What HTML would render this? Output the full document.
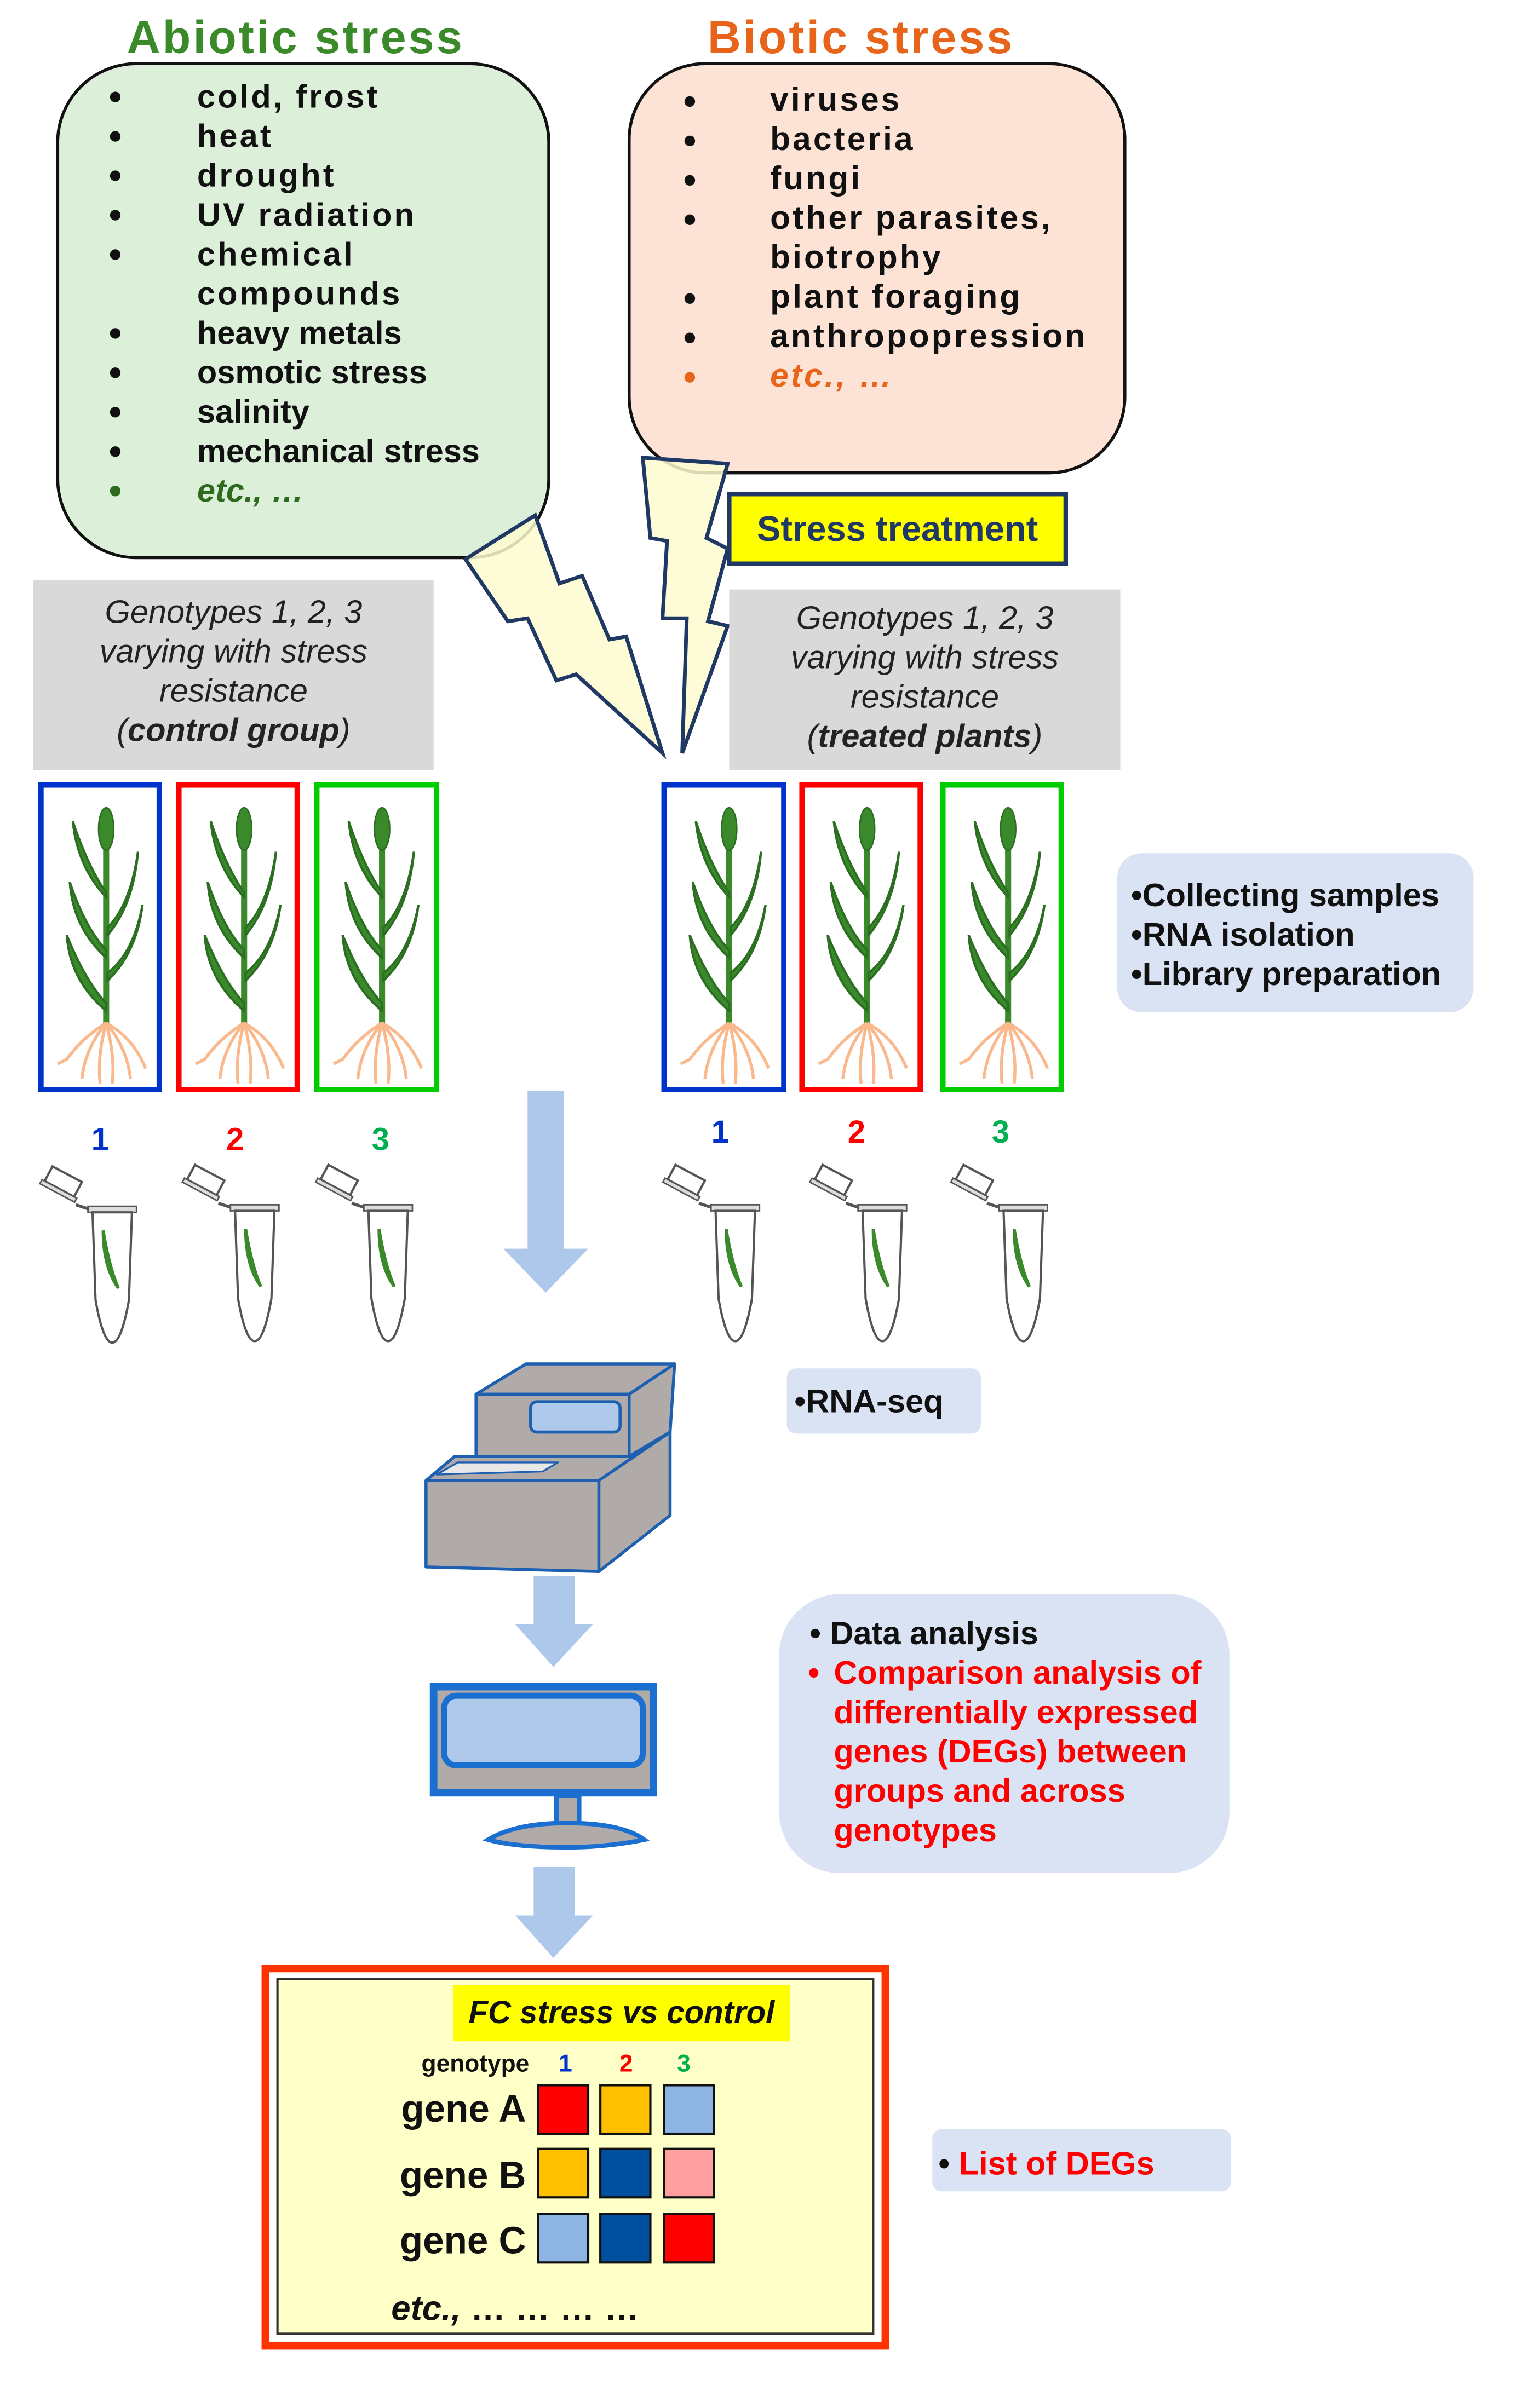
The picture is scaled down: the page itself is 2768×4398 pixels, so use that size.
<!DOCTYPE html>
<html><head><meta charset="utf-8"><style>html,body{margin:0;padding:0;background:#fff}svg{display:block}</style></head>
<body>
<svg width="2768" height="4398" viewBox="0 0 1000 1589" xmlns="http://www.w3.org/2000/svg" font-family="Liberation Sans, Arial, sans-serif">
<defs>
<g id="plant">
  <line x1="44" y1="28" x2="44" y2="158" stroke="#3a8a2c" stroke-width="4"/>
  <ellipse cx="44" cy="30" rx="5" ry="14" fill="#3a8a2c" stroke="#2c6e22"/>
  <path d="M44,75 Q25,55 22,25 Q32,55 44,72Z" fill="#3a8a2c" stroke="#2c6e22" stroke-width="1.5"/>
  <path d="M44,115 Q22,95 20,65 Q30,95 44,110Z" fill="#3a8a2c" stroke="#2c6e22" stroke-width="1.5"/>
  <path d="M44,150 Q20,130 18,100 Q30,130 44,145Z" fill="#3a8a2c" stroke="#2c6e22" stroke-width="1.5"/>
  <path d="M45,100 Q62,80 65,45 Q60,80 45,95Z" fill="#3a8a2c" stroke="#2c6e22" stroke-width="1.5"/>
  <path d="M45,130 Q64,112 68,80 Q62,112 45,125Z" fill="#3a8a2c" stroke="#2c6e22" stroke-width="1.5"/>
  <g stroke="#f9b98c" stroke-width="2" fill="none">
    <path d="M44,158 Q28,168 18,182 L12,185"/>
    <path d="M44,158 Q30,175 28,195"/>
    <path d="M44,158 Q38,180 40,198"/>
    <path d="M44,158 Q50,180 48,198"/>
    <path d="M44,158 Q58,175 60,195"/>
    <path d="M44,158 Q62,168 70,188"/>
  </g>
</g>
<g id="tube">
  <g transform="rotate(28 -30 -12)"><rect x="-46" y="-22" width="22" height="11" fill="#fff" stroke="#555" stroke-width="1.5"/><rect x="-48" y="-11" width="26" height="3" fill="#ddd" stroke="#555" stroke-width="1"/></g>
  <path d="M-24,-3 L-15,0" stroke="#555" stroke-width="2"/>
  <rect x="-16" y="-2" width="32" height="4" fill="#ddd" stroke="#555" stroke-width="1"/>
  <path d="M-13,2 L13,2 L11,60 Q6,88 0,88 Q-6,88 -11,60 Z" fill="#fff" stroke="#555" stroke-width="1.5"/>
  <path d="M-6,14 Q-6,38 4,52 Q-2,38 -6,14Z" fill="#3a8a2c" stroke="#3a8a2c" stroke-width="2"/>
</g>
</defs>

<!-- Abiotic -->
<text x="195" y="35" font-size="30.5" font-weight="bold" fill="#3a8a2a" text-anchor="middle" letter-spacing="1.5">Abiotic stress</text>
<rect x="38" y="42" width="324" height="326" rx="52" fill="#dcefd9" stroke="#111" stroke-width="2"/>
<g font-size="21.5" font-weight="bold" fill="#111">
<g letter-spacing="1.5">
<text x="130" y="71">cold, frost</text>
<text x="130" y="97">heat</text>
<text x="130" y="123">drought</text>
<text x="130" y="149">UV radiation</text>
<text x="130" y="175">chemical</text>
<text x="130" y="201">compounds</text>
</g>
<text x="130" y="227">heavy metals</text>
<text x="130" y="253">osmotic stress</text>
<text x="130" y="279">salinity</text>
<text x="130" y="305">mechanical stress</text>
<text x="130" y="331" font-style="italic" fill="#2e6b1f">etc., …</text>
</g>
<g fill="#111">
<circle cx="76" cy="64" r="3.5"/><circle cx="76" cy="90" r="3.5"/><circle cx="76" cy="116" r="3.5"/><circle cx="76" cy="142" r="3.5"/><circle cx="76" cy="168" r="3.5"/><circle cx="76" cy="220" r="3.5"/><circle cx="76" cy="246" r="3.5"/><circle cx="76" cy="272" r="3.5"/><circle cx="76" cy="298" r="3.5"/><circle cx="76" cy="324" r="3.5" fill="#2e6b1f"/>
</g>

<!-- Biotic -->
<text x="568" y="35" font-size="30.5" font-weight="bold" fill="#e8641a" text-anchor="middle" letter-spacing="1.5">Biotic stress</text>
<rect x="415" y="42" width="327" height="270" rx="50" fill="#fde3d6" stroke="#111" stroke-width="2"/>
<g font-size="21.8" font-weight="bold" fill="#111" letter-spacing="1.5">
<text x="508" y="73">viruses</text>
<text x="508" y="99">bacteria</text>
<text x="508" y="125">fungi</text>
<text x="508" y="151">other parasites,</text>
<text x="508" y="177">biotrophy</text>
<text x="508" y="203">plant foraging</text>
<text x="508" y="229">anthropopression</text>
<text x="508" y="255" font-style="italic" fill="#e8641a">etc., …</text>
</g>
<g fill="#111">
<circle cx="455" cy="67" r="3.5"/><circle cx="455" cy="93" r="3.5"/><circle cx="455" cy="119" r="3.5"/><circle cx="455" cy="145" r="3.5"/><circle cx="455" cy="197" r="3.5"/><circle cx="455" cy="223" r="3.5"/><circle cx="455" cy="249" r="3.5" fill="#e8641a"/>
</g>

<!-- bolts -->
<polygon points="307,369 353,340 369,385 384,380 402,422 413,420 437,497 380,445 367,449 348,408 335,410" fill="#fdfcd0" fill-opacity="0.85" stroke="#1f3864" stroke-width="2.5"/>
<polygon points="424,302 480,306 466,355 480,362 467,410 480,413 450,497 453,408 437,408 440,357 429,355" fill="#fdfcd0" fill-opacity="0.85" stroke="#1f3864" stroke-width="2.5"/>

<rect x="481" y="326" width="222" height="46" fill="#ffff00" stroke="#1f3864" stroke-width="3"/>
<text x="592" y="357" font-size="23.5" font-weight="bold" fill="#1f3864" text-anchor="middle">Stress treatment</text>

<!-- grey boxes -->
<rect x="22" y="383" width="264" height="125" fill="#d9d9d9"/>
<g font-size="21.5" font-style="italic" fill="#222" text-anchor="middle">
<text x="154" y="411">Genotypes 1, 2, 3</text>
<text x="154" y="437">varying with stress</text>
<text x="154" y="463">resistance</text>
<text x="154" y="489">(<tspan font-weight="bold">control group</tspan>)</text>
</g>
<rect x="481" y="389" width="258" height="119" fill="#d9d9d9"/>
<g font-size="21.5" font-style="italic" fill="#222" text-anchor="middle">
<text x="610" y="415">Genotypes 1, 2, 3</text>
<text x="610" y="441">varying with stress</text>
<text x="610" y="467">resistance</text>
<text x="610" y="493">(<tspan font-weight="bold">treated plants</tspan>)</text>
</g>

<!-- plant boxes -->
<g fill="#fff" stroke-width="3.5">
<rect x="27" y="518" width="78" height="201" stroke="#0033cc"/>
<rect x="118" y="518" width="78" height="201" stroke="#ff0000"/>
<rect x="209" y="518" width="79" height="201" stroke="#00cc00"/>
<rect x="438" y="518" width="79" height="201" stroke="#0033cc"/>
<rect x="529" y="518" width="78" height="201" stroke="#ff0000"/>
<rect x="622" y="518" width="78" height="201" stroke="#00cc00"/>
</g>
<use href="#plant" x="26" y="517"/><use href="#plant" x="117" y="517"/><use href="#plant" x="208" y="517"/>
<use href="#plant" x="437" y="517"/><use href="#plant" x="528" y="517"/><use href="#plant" x="621" y="517"/>

<rect x="737" y="563" width="235" height="105" rx="16" fill="#dae3f3"/>
<g font-size="21.5" font-weight="bold" fill="#111">
<text x="746" y="598">•Collecting samples</text>
<text x="746" y="624">•RNA isolation</text>
<text x="746" y="650">•Library preparation</text>
</g>

<!-- numbers -->
<g font-size="21" font-weight="bold" text-anchor="middle">
<text x="66" y="759" fill="#0033cc">1</text><text x="155" y="759" fill="#ff0000">2</text><text x="251" y="759" fill="#00b050">3</text>
<text x="475" y="754" fill="#0033cc">1</text><text x="565" y="754" fill="#ff0000">2</text><text x="660" y="754" fill="#00b050">3</text>
</g>
<use href="#tube" x="74" y="798"/><use href="#tube" x="168" y="797"/><use href="#tube" x="256" y="797"/>
<use href="#tube" x="485" y="797"/><use href="#tube" x="582" y="797"/><use href="#tube" x="675" y="797"/>

<!-- arrows -->
<g fill="#adc8ea">
<polygon points="348,720 372,720 372,824 388,824 360,853 332,824 348,824"/>
<polygon points="352,1040 379,1040 379,1072 391,1072 365,1100 340,1072 352,1072"/>
<polygon points="352,1232 379,1232 379,1264 391,1264 365,1292 340,1264 352,1264"/>
</g>

<!-- sequencer -->
<g stroke="#1d5fb0" stroke-width="2" stroke-linejoin="round">
<polygon points="314,920 347,900 445,900 415,920" fill="#b0aba9"/>
<polygon points="415,920 445,900 442,945 415,961" fill="#b0aba9"/>
<rect x="314" y="920" width="101" height="41" fill="#b0aba9"/>
<polygon points="281,977 300,961 415,961 442,945 395,977" fill="#b0aba9"/>
<polygon points="395,977 442,945 442,1000 395,1037" fill="#b0aba9"/>
<polygon points="281,977 395,977 395,1037 281,1034" fill="#b0aba9"/>
<rect x="350" y="925" width="59" height="20" rx="4" fill="#afc9ea"/>
<polygon points="288,973 302,965 368,965 358,971" fill="#e8e8e8" stroke-width="1.2"/>
</g>

<rect x="519" y="903" width="128" height="43" rx="6" fill="#dae3f3"/>
<text x="524" y="932" font-size="21.5" font-weight="bold" fill="#111">•RNA-seq</text>

<!-- monitor -->
<rect x="286" y="1113" width="145" height="70" fill="#b0aba9" stroke="#1a6fd0" stroke-width="5"/>
<rect x="293" y="1119" width="131" height="46" rx="8" fill="#afc9ea" stroke="#1a6fd0" stroke-width="4"/>
<rect x="367" y="1185" width="15" height="18" fill="#b0aba9" stroke="#1a6fd0" stroke-width="3"/>
<path d="M322,1214 Q340,1203 374,1203 Q410,1203 425,1214 Q400,1219 374,1219 Q340,1219 322,1214Z" fill="#b0aba9" stroke="#1a6fd0" stroke-width="3"/>

<!-- data analysis -->
<rect x="514" y="1052" width="297" height="184" rx="40" fill="#dae3f3"/>
<g font-size="21.5" font-weight="bold">
<text x="534" y="1085" fill="#111">• Data analysis</text>
<text x="533" y="1111" fill="#ff0000">•</text>
<g fill="#ff0000">
<text x="550" y="1111">Comparison analysis of</text>
<text x="550" y="1137">differentially expressed</text>
<text x="550" y="1163">genes (DEGs) between</text>
<text x="550" y="1189">groups and across</text>
<text x="550" y="1215">genotypes</text>
</g>
</g>

<!-- result box -->
<rect x="175" y="1299" width="409" height="249" fill="#fff" stroke="#ff3300" stroke-width="5"/>
<rect x="183" y="1306" width="393" height="234" fill="#ffffc8" stroke="#333" stroke-width="1.5"/>
<rect x="299" y="1310" width="222" height="37" fill="#ffff00"/>
<text x="410" y="1335" font-size="21" font-weight="bold" font-style="italic" text-anchor="middle" fill="#111">FC stress vs control</text>
<g font-size="16" font-weight="bold">
<text x="278" y="1367" fill="#111">genotype</text>
<text x="373" y="1367" fill="#0033cc" text-anchor="middle">1</text>
<text x="413" y="1367" fill="#ff0000" text-anchor="middle">2</text>
<text x="451" y="1367" fill="#00b050" text-anchor="middle">3</text>
</g>
<g font-size="25" font-weight="bold" fill="#111" text-anchor="end">
<text x="347" y="1400">gene A</text>
<text x="347" y="1444">gene B</text>
<text x="347" y="1487">gene C</text>
</g>
<g stroke="#111" stroke-width="1.5">
<rect x="355" y="1376" width="33" height="32" fill="#ff0000"/><rect x="396" y="1376" width="33" height="32" fill="#ffc000"/><rect x="438" y="1376" width="33" height="32" fill="#8eb4e3"/>
<rect x="355" y="1418" width="33" height="32" fill="#ffc000"/><rect x="396" y="1418" width="33" height="32" fill="#0050a0"/><rect x="438" y="1418" width="33" height="32" fill="#ff9f9f"/>
<rect x="355" y="1461" width="33" height="32" fill="#8eb4e3"/><rect x="396" y="1461" width="33" height="32" fill="#0050a0"/><rect x="438" y="1461" width="33" height="32" fill="#ff0000"/>
</g>
<text x="258" y="1531" font-size="23" font-weight="bold" font-style="italic" fill="#111">etc., <tspan font-style="normal">…   …   …   …</tspan></text>

<rect x="615" y="1405" width="197" height="41" rx="6" fill="#dae3f3"/>
<text x="619" y="1435" font-size="21.5" font-weight="bold" fill="#111">• <tspan fill="#ff0000">List of DEGs</tspan></text>
</svg>
</body></html>
